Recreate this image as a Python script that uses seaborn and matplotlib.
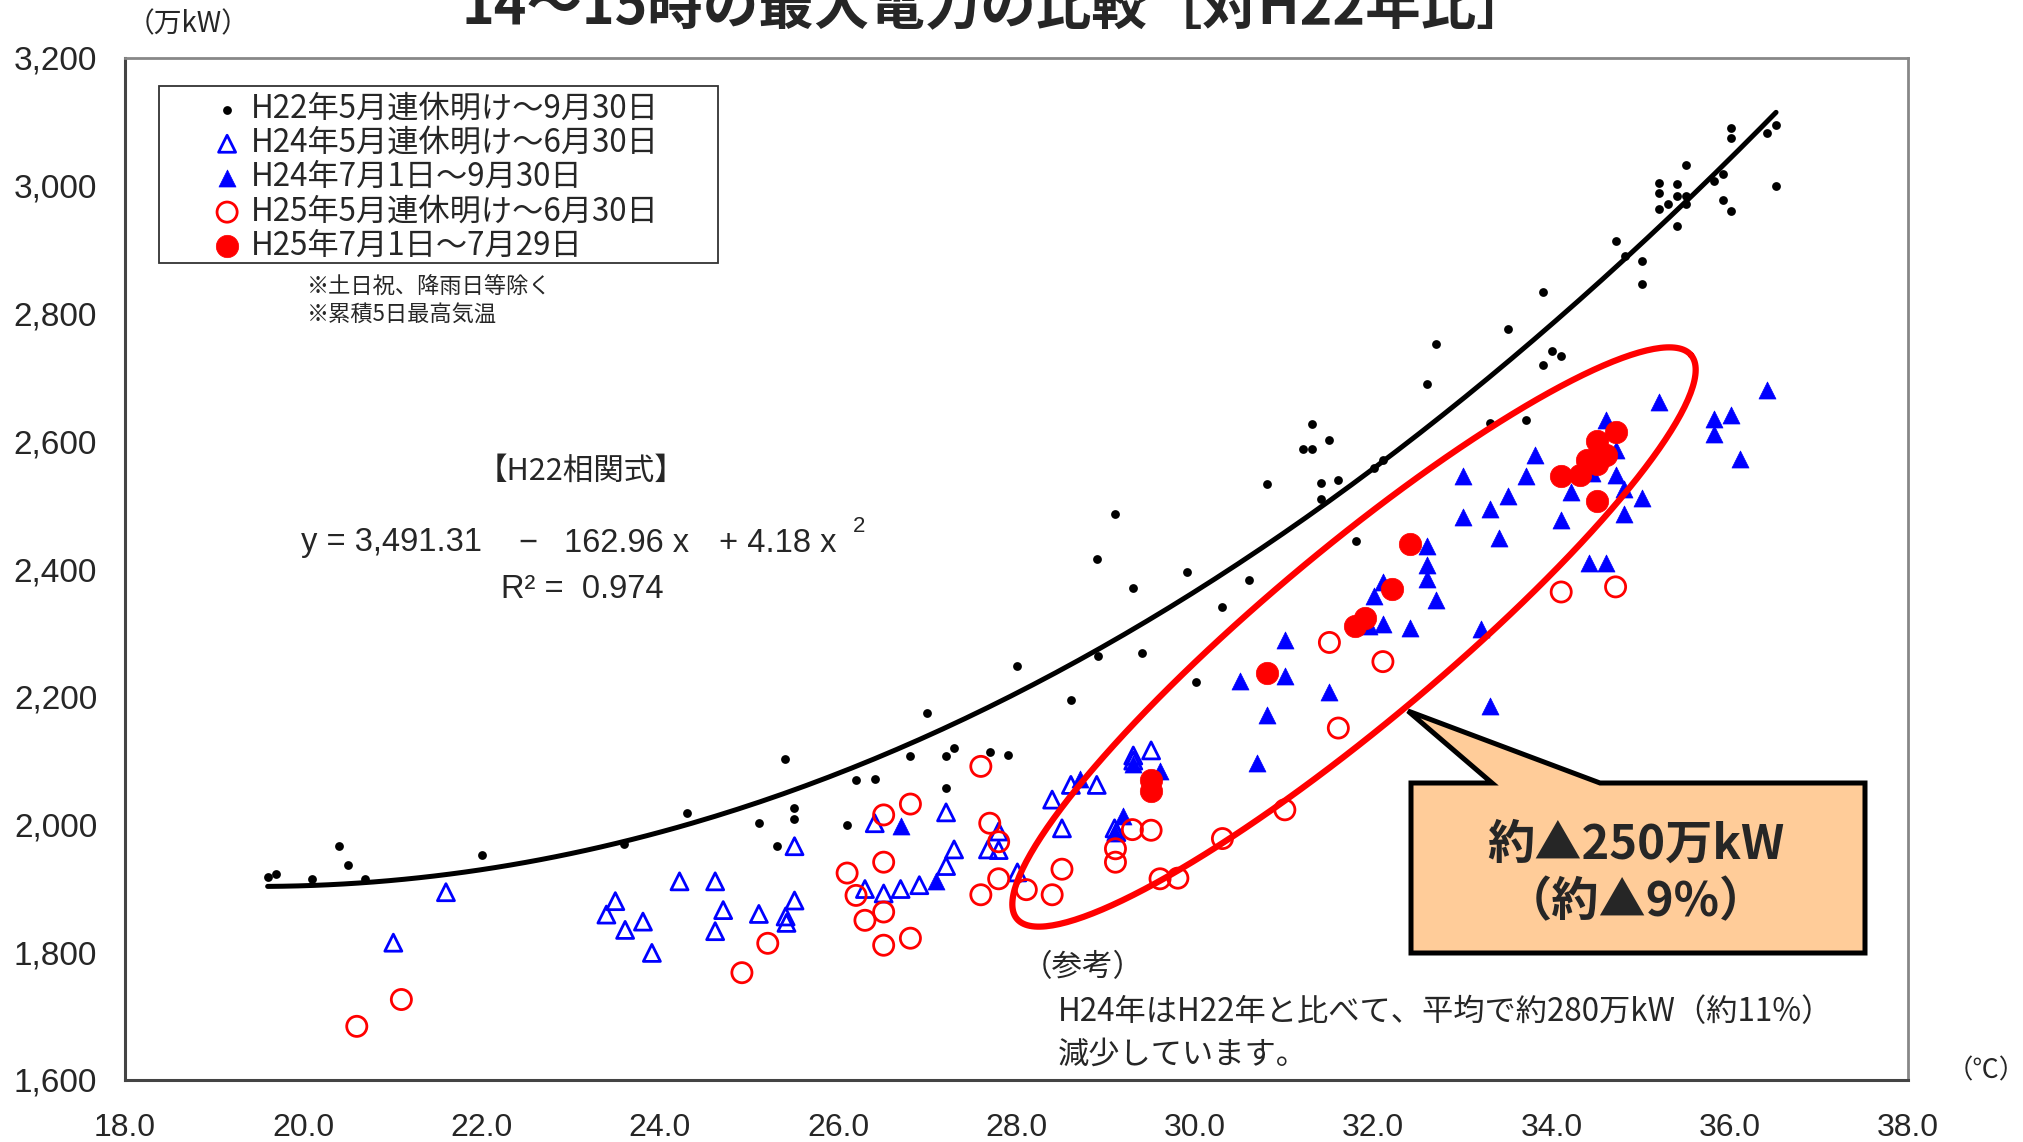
import numpy as np
import pandas as pd
import matplotlib
matplotlib.use("Agg")
import matplotlib.pyplot as plt
import seaborn as sns
from matplotlib import font_manager
from matplotlib.patches import Polygon, Rectangle
from matplotlib.ticker import FuncFormatter, FixedLocator

# ---------------- data ----------------
h22_temp = [19.60, 19.69, 20.10, 20.40, 20.50, 20.69, 22.01, 23.60, 24.30, 25.11,
            25.31, 25.40, 25.50, 25.50, 26.10, 26.20, 26.41, 26.81, 27.00, 27.21,
            27.30, 27.21, 27.70, 27.90, 28.00, 28.61, 28.90, 28.91, 29.11, 29.31,
            29.41, 29.91, 30.01, 30.31, 30.61, 30.81, 31.21, 31.31, 31.31, 31.41,
            31.41, 31.51, 31.61, 31.81, 32.01, 32.11, 32.60, 32.71, 33.31, 33.51,
            33.71, 33.91, 33.91, 34.01, 34.11, 34.72, 34.82, 35.02, 35.02, 35.21,
            35.21, 35.21, 35.31, 35.41, 35.41, 35.41, 35.51, 35.51, 35.51, 35.82,
            35.92, 35.92, 36.02, 36.02, 36.02, 36.42, 36.52, 36.52]
h22_power = [1918, 1922, 1914, 1966, 1936, 1914, 1953, 1970, 2018, 2003,
             1966, 2102, 2026, 2009, 2000, 2070, 2072, 2108, 2175, 2108,
             2120, 2057, 2114, 2109, 2248, 2195, 2416, 2264, 2486, 2370,
             2269, 2396, 2223, 2340, 2383, 2533, 2588, 2588, 2627, 2534,
             2510, 2602, 2539, 2444, 2558, 2570, 2690, 2752, 2628, 2775,
             2634, 2720, 2833, 2742, 2734, 2913, 2890, 2882, 2846, 3005,
             2989, 2964, 2971, 3003, 2984, 2937, 3032, 2984, 2971, 3008,
             3019, 2978, 3090, 3074, 2960, 3083, 3095, 3000]

h24a_temp = [21.01, 21.60, 23.40, 23.50, 23.61, 23.81, 23.91, 24.22, 24.62, 24.62,
             24.71, 25.11, 25.41, 25.42, 25.51, 25.51, 26.30, 26.41, 26.51, 26.70,
             26.91, 27.21, 27.21, 27.30, 27.68, 27.80, 27.80, 28.01, 28.40, 28.51,
             28.61, 28.90, 29.10, 29.12, 29.31, 29.31, 29.51]
h24a_power = [1815, 1894, 1859, 1880, 1835, 1848, 1799, 1911, 1911, 1833,
              1866, 1860, 1856, 1846, 1966, 1881, 1899, 2002, 1892, 1899,
              1905, 2019, 1935, 1961, 1961, 1989, 1960, 1925, 2039, 1994,
              2062, 2062, 1994, 1988, 2108, 2100, 2116]

h24b_temp = [26.70, 27.10, 28.71, 29.20, 29.11, 29.31, 29.61, 30.51, 30.70, 30.81,
             31.01, 31.01, 31.51, 31.95, 32.01, 32.11, 32.11, 32.41, 32.61, 32.61,
             32.61, 32.71, 33.01, 33.01, 33.21, 33.31, 33.31, 33.41, 33.51, 33.71,
             33.82, 34.11, 34.22, 34.45, 34.61, 34.73, 34.72, 34.81, 34.81, 35.02,
             34.42, 34.61, 35.21, 35.82, 35.82, 36.02, 36.11, 36.42]
h24b_power = [1997, 1911, 2071, 2014, 1987, 2095, 2083, 2224, 2096, 2172,
              2289, 2233, 2208, 2311, 2358, 2380, 2314, 2307, 2436, 2407,
              2384, 2352, 2546, 2481, 2306, 2494, 2185, 2448, 2515, 2546,
              2579, 2477, 2521, 2550, 2634, 2587, 2547, 2525, 2486, 2511,
              2409, 2410, 2662, 2635, 2611, 2641, 2572, 2681]

h25a_temp = [20.60, 21.10, 24.92, 25.21, 26.10, 26.20, 26.30, 26.51, 26.51, 26.51,
             26.51, 26.81, 26.81, 27.60, 27.60, 27.70, 27.80, 27.80, 28.11, 28.40,
             28.51, 29.11, 29.11, 29.30, 29.51, 29.61, 29.81, 30.31, 31.01, 31.51,
             31.61, 32.11, 34.11, 34.72]
h25a_power = [1684, 1726, 1768, 1814, 1924, 1889, 1850, 2015, 1941, 1863,
              1811, 2032, 1822, 2091, 1890, 2002, 1973, 1915, 1898, 1890,
              1930, 1962, 1941, 1992, 1991, 1915, 1916, 1978, 2023, 2285,
              2151, 2255, 2364, 2372]

h25b_temp = [29.51, 29.51, 30.81, 31.80, 31.91, 32.21, 32.41, 34.11, 34.32, 34.40,
             34.51, 34.51, 34.61, 34.72, 34.51]
h25b_power = [2070, 2052, 2237, 2311, 2323, 2368, 2439, 2545, 2547, 2570,
              2565, 2601, 2579, 2614, 2507]

series_labels = ["H22年5月連休明け～9月30日",
                 "H24年5月連休明け～6月30日",
                 "H24年7月1日～9月30日",
                 "H25年5月連休明け～6月30日",
                 "H25年7月1日～7月29日"]

# H22 correlation formula shown in the chart
fit_coef = [3491.31, -162.96, 4.18]
fit_range = [19.6, 36.52]

x_ticks = [18.0, 20.0, 22.0, 24.0, 26.0, 28.0, 30.0, 32.0, 34.0, 36.0, 38.0]
y_ticks = [1600, 1800, 2000, 2200, 2400, 2600, 2800, 3000, 3200]

# ---------------- style ----------------
sns.set_theme(style="white")
names = {f.name for f in font_manager.fontManager.ttflist}
NUM = "Liberation Sans Narrow" if "Liberation Sans Narrow" in names else "Liberation Sans"
JP = "Noto Sans CJK JP"
plt.rcParams["font.family"] = [NUM, JP, "DejaVu Sans"]
plt.rcParams["axes.unicode_minus"] = False

W, H = 2024, 1142
fig = plt.figure(figsize=(W / 100, H / 100), dpi=100)
AX_L, AX_R, AX_T, AX_B = 125, 1908, 58, 1080
ax = fig.add_axes([AX_L / W, 1 - AX_B / H, (AX_R - AX_L) / W, (AX_B - AX_T) / H])


def px2ax(px, py):
    return ((px - AX_L) / (AX_R - AX_L), (AX_B - py) / (AX_B - AX_T))


# ---------------- scatter series ----------------
sns.scatterplot(x=h22_temp, y=h22_power, ax=ax, marker="o", s=40, color="black",
                edgecolor="black", linewidth=0, label=series_labels[0], zorder=3)
sns.scatterplot(x=h24a_temp, y=h24a_power, ax=ax, marker="^", s=150, facecolors="none",
                edgecolor="#0000FF", linewidth=2.0, label=series_labels[1], zorder=3)
sns.scatterplot(x=h24b_temp, y=h24b_power, ax=ax, marker="^", s=150, color="#0000FF",
                edgecolor="#0000FF", linewidth=0.5, label=series_labels[2], zorder=3)
sns.scatterplot(x=h25a_temp, y=h25a_power, ax=ax, marker="o", s=210, facecolors="none",
                edgecolor="#FF0000", linewidth=2.0, label=series_labels[3], zorder=4)
sns.scatterplot(x=h25b_temp, y=h25b_power, ax=ax, marker="o", s=260, color="#FF0000",
                edgecolor="#FF0000", linewidth=0.5, label=series_labels[4], zorder=5)

# regression curve from the stated H22 formula
xs = np.linspace(fit_range[0], fit_range[1], 200)
ys = fit_coef[0] + fit_coef[1] * xs + fit_coef[2] * xs ** 2
sns.lineplot(x=xs, y=ys, ax=ax, color="black", linewidth=3.6, legend=False, zorder=4)

# ---------------- axes ----------------
ax.set_xlim(18, 38)
ax.set_ylim(1600, 3200)
ax.xaxis.set_major_locator(FixedLocator(x_ticks))
ax.yaxis.set_major_locator(FixedLocator(y_ticks))
ax.xaxis.set_major_formatter(FuncFormatter(lambda v, p: f"{v:.1f}"))
ax.yaxis.set_major_formatter(FuncFormatter(lambda v, p: f"{v:,.0f}"))
ax.tick_params(axis="both", direction="in", length=9, width=1.2, color="#333333")
ax.tick_params(axis="x", labelsize=23, pad=24)
ax.tick_params(axis="y", labelsize=24, pad=20)
for lab in ax.get_xticklabels() + ax.get_yticklabels():
    lab.set_family([NUM, "DejaVu Sans"])
ax.set_xlabel("")
ax.set_ylabel("")
ax.grid(False)
for side in ["top", "right"]:
    ax.spines[side].set_color("#888888")
    ax.spines[side].set_linewidth(2.0)
for side in ["left", "bottom"]:
    ax.spines[side].set_color("#444444")
    ax.spines[side].set_linewidth(2.2)

# ---------------- legend ----------------
handles, labels = ax.get_legend_handles_labels()
leg = ax.legend(handles, labels, loc="upper left", bbox_to_anchor=(0.0485, 0.966),
                frameon=False, borderpad=0, borderaxespad=0, handlelength=1.0,
                handletextpad=0.25, labelspacing=0.07, scatterpoints=1,
                prop={"family": [JP, "DejaVu Sans"], "size": 22.5})
x0, y0 = px2ax(159, 263)
x1, y1 = px2ax(718, 86)
ax.add_patch(Rectangle((x0, y0), x1 - x0, y1 - y0, transform=ax.transAxes,
                       fill=False, edgecolor="#333333", linewidth=1.3, zorder=6))

# notes
ax.text(*px2ax(307, 287), "※土日祝、降雨日等除く", transform=ax.transAxes,
        ha="left", va="center", fontsize=16, family=[JP, "DejaVu Sans"])
ax.text(*px2ax(307, 314), "※累積5日最高気温", transform=ax.transAxes,
        ha="left", va="center", fontsize=16, family=[JP, "DejaVu Sans"])

# formula block
EQ = dict(transform=ax.transAxes, va="center", fontsize=23.5, family=[NUM, "DejaVu Sans"])
ax.text(*px2ax(581, 471), "【H22相関式】", transform=ax.transAxes,
        ha="center", va="center", fontsize=22, family=[JP, "DejaVu Sans"])
ax.text(*px2ax(301, 543), "y = 3,491.31", ha="left", **EQ)
ax.text(*px2ax(528, 543), "−", ha="center", **EQ)
ax.text(*px2ax(564, 543), "162.96 x", ha="left", **EQ)
ax.text(*px2ax(719, 543), "+ 4.18 x", ha="left", **EQ)
ax.text(*px2ax(859, 527), "2", transform=ax.transAxes, ha="center", va="center",
        fontsize=16, family=[NUM, "DejaVu Sans"])
ax.text(*px2ax(582, 590), "R² =  0.974", ha="center", **EQ)

# reference note
ax.text(*px2ax(1022, 968), "（参考）", transform=ax.transAxes,
        ha="left", va="center", fontsize=22, family=[JP, "DejaVu Sans"])
ax.text(*px2ax(1058, 1012), "H24年はH22年と比べて、平均で約280万kW（約11%）",
        transform=ax.transAxes, ha="left", va="center", fontsize=22.5,
        family=[JP, "DejaVu Sans"])
ax.text(*px2ax(1058, 1055), "減少しています。", transform=ax.transAxes,
        ha="left", va="center", fontsize=22.5, family=[JP, "DejaVu Sans"])

# red ellipse annotation (pixel geometry)
cx, cy, a, b, th = 1354, 637, 439.4, 87, np.deg2rad(39.9)
t = np.linspace(0, 2 * np.pi, 300)
u = np.array([np.cos(th), -np.sin(th)])
n = np.array([np.sin(th), np.cos(th)])
ex = cx + a * np.cos(t) * u[0] + b * np.sin(t) * n[0]
ey = cy + a * np.cos(t) * u[1] + b * np.sin(t) * n[1]
exa, eya = px2ax(ex, ey)
ax.plot(exa, eya, transform=ax.transAxes, color="#FF0000", linewidth=4.5, zorder=7,
        clip_on=False)

# callout box
callout_px = [(1411, 783), (1492, 783), (1408, 711), (1600, 783), (1865, 783),
              (1865, 953), (1411, 953)]
callout_ax = [px2ax(px, py) for px, py in callout_px]
ax.add_patch(Polygon(callout_ax, closed=True, transform=ax.transAxes,
                     facecolor="#FFCC99", edgecolor="black", linewidth=3.6,
                     joinstyle="miter", zorder=8, clip_on=False))
ax.text(*px2ax(1636, 845), "約▲250万kW", transform=ax.transAxes, ha="center",
        va="center", fontsize=34, weight="bold", family=[JP, "DejaVu Sans"], zorder=9)
ax.text(*px2ax(1636, 902), "（約▲9%）", transform=ax.transAxes, ha="center",
        va="center", fontsize=34, weight="bold", family=[JP, "DejaVu Sans"], zorder=9)

# title and unit labels
fig.text(997 / W, 1 - 8 / H, "14～15時の最大電力の比較［対H22年比］", ha="center",
         va="center", fontsize=40, weight="bold", family=[JP, "DejaVu Sans"])
fig.text(188 / W, 1 - 24 / H, "（万kW）", ha="center", va="center", fontsize=20,
         family=[JP, "DejaVu Sans"])
fig.text(1986 / W, 1 - 1071 / H, "（℃）", ha="center", va="center", fontsize=19,
         family=[JP, "DejaVu Sans"])

fig.savefig("out.png", dpi=100)
